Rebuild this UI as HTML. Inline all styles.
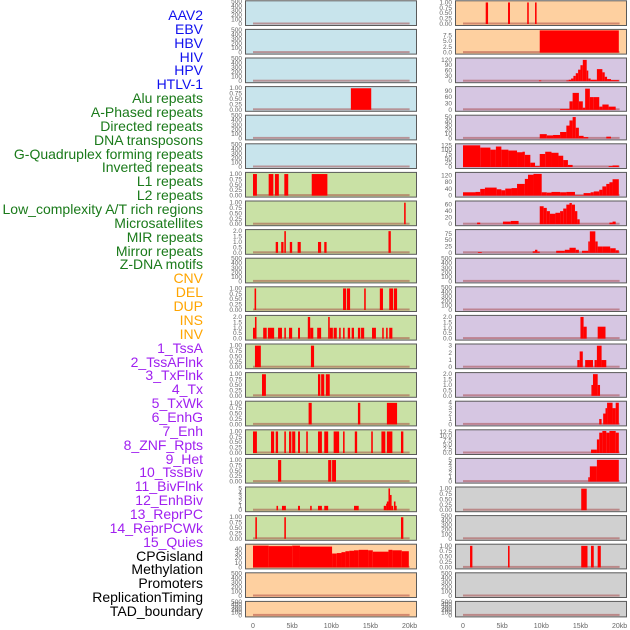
<!DOCTYPE html>
<html><head><meta charset="utf-8">
<style>
html,body{margin:0;padding:0;background:#fff;}
#wrap{position:relative;width:630px;height:630px;overflow:hidden;font-family:"Liberation Sans",sans-serif;}
.lbl{position:absolute;right:427px;font-size:14px;line-height:14px;white-space:nowrap;}
svg{position:absolute;left:0;top:0;}
</style></head>
<body>
<div id="wrap">
<svg id="chart" width="630" height="630"></svg>
</div>
<script>
// ---- track labels ----
const trackLabels = ["AAV2","EBV","HBV","HIV","HPV","HTLV-1","Alu repeats","A-Phased repeats","Directed repeats","DNA transposons","G-Quadruplex forming repeats","Inverted repeats","L1 repeats","L2 repeats","Low_complexity A/T rich regions","Microsatellites","MIR repeats","Mirror repeats","Z-DNA motifs","CNV","DEL","DUP","INS","INV","1_TssA","2_TssAFlnk","3_TxFlnk","4_Tx","5_TxWk","6_EnhG","7_Enh","8_ZNF_Rpts","9_Het","10_TssBiv","11_BivFlnk","12_EnhBiv","13_ReprPC","14_ReprPCWk","15_Quies","CPGisland","Methylation","Promoters","ReplicationTiming","TAD_boundary"];
const labelGroups = [6,13,5,15,5];
const groupColors = ["#1010ee","#1a7a1a","#ffa500","#a020f0","#000000"];

// ---- x axis ----
const xTicks = [0,5,10,15,20];
const xTickLabels = ["0","5kb","10kb","15kb","20kb"];

// ---- left column data: [startKb, endKb, value] ----
const L00=[],L01=[],L02=[],L04=[],L05=[],L09=[],L20=[],L21=[];
const L03=[[12.5,15.1,1]];
const L06=[[0,0.5,1],[2.0,2.6,1],[2.8,3.3,1],[4.0,4.5,1],[7.5,9.5,1]];
const L07=[[19.3,19.5,1]];
const L08=[[2.9,3.2,1],[3.6,3.9,1],[4.0,4.2,2],[4.7,5.0,1],[5.7,6.1,1],[8.3,8.7,1],[9.1,9.4,1],[17.3,17.6,2]];
const L10=[[0.2,0.4,1],[11.5,11.9,1],[12.0,12.4,1],[14.2,14.4,1],[16.2,16.6,1],[17.4,17.9,1],[18.0,18.4,1]];
const L11=[[0,0.4,1],[0.25,0.45,2],[1.3,1.75,1],[1.9,2.7,1],[3.2,3.7,1],[4.0,4.2,1],[4.6,5.0,1],[5.75,6.0,1],[7.0,7.3,2],[7.3,7.7,1],[8.2,8.7,1],[9.6,9.8,2],[9.8,10.2,1],[10.3,10.7,1],[11.0,11.2,1],[11.5,11.7,1],[12.1,12.4,1],[12.6,12.9,1],[13.4,13.7,1],[13.8,14.2,1],[15.2,15.7,1],[16.5,16.7,1],[17.0,17.2,1],[17.4,17.8,1]];
const L12=[[0.25,1.0,1],[7.4,7.8,1]];
const L13=[[1.15,1.65,1],[8.3,8.6,1],[8.7,9.1,1],[9.3,9.8,1]];
const L14=[[7.1,7.5,1],[13.4,13.7,1],[17.1,18.4,1]];
const L15=[[0,0.5,1],[2.3,2.7,1],[2.9,3.2,1],[4.0,4.2,1],[4.6,4.9,1],[5.0,5.4,1],[5.75,6.0,1],[6.8,7.0,1],[8.3,8.8,1],[9.1,9.6,1],[10.3,11.0,1],[11.5,11.7,1],[13.0,13.3,1],[15.1,15.3,1],[16.4,16.9,1],[17.1,17.8,1],[18.9,19.2,1]];
const L16=[[3.2,3.6,1],[9.6,10.0,1],[10.1,10.6,1]];
const L17=[[3.0,3.2,1],[3.7,4.2,1],[5.75,6.0,1],[7.3,7.5,1],[8.3,8.8,1],[9.1,9.6,1],[12.9,13.5,1],[16.7,17.0,1],[17.0,17.1,1.5],[17.1,17.3,2],[17.3,17.5,5],[17.5,17.7,3.5],[17.7,17.9,1],[18.0,18.2,2],[18.2,18.3,1]];
const L18=[[0.3,0.5,1],[4.0,4.2,1],[18.9,19.2,1]];
const L19=[[0,2,47],[2,5,46],[5,6,47],[6,10.1,45],[10.1,10.7,30],[10.7,11.3,31],[11.3,11.8,33],[11.8,12.3,35],[12.3,12.9,36],[12.9,13.5,37],[13.5,14.7,38],[14.7,15.3,37],[15.3,17.3,34],[17.3,17.8,38],[17.8,19.0,37],[19.0,19.9,35]];

// ---- right column data ----
const R09=[],R10=[],R18=[],R20=[],R21=[];
const R00=[[2.9,3.2,1],[5.75,6.0,1],[8.2,8.4,1],[9.2,9.4,1]];
const R01=[[9.8,19.9,9.6]];
const R02=[[9.7,10.0,4],[13.2,13.5,4],[13.5,13.8,8],[13.8,14.1,15],[14.1,14.4,30],[14.4,14.7,45],[14.7,15.0,65],[15.0,15.3,90],[15.3,15.8,120],[15.8,16.0,60],[16.0,16.3,15],[16.3,17.1,8],[17.1,17.8,68],[17.8,18.1,50],[18.1,18.4,25],[18.4,18.9,12],[18.9,19.9,6]];
const R03=[[12.4,13.6,4],[13.6,14.0,40],[14.0,14.8,80],[14.8,15.3,40],[15.3,15.6,10],[15.6,16.2,100],[16.2,16.7,60],[16.7,17.4,60],[17.4,17.8,15],[17.8,18.6,25],[18.6,19.5,15]];
const R04=[[9.8,10.7,10],[10.7,11.5,7],[11.5,12.4,8],[12.4,13.2,15],[13.2,13.6,30],[13.6,14.0,42],[14.0,14.4,50],[14.4,14.8,25],[14.8,15.4,6],[15.4,16.0,3],[18.3,18.9,4]];
const R05=[[0,2.2,125],[2.2,3.5,112],[3.5,4.2,100],[4.2,4.9,118],[4.9,5.8,100],[5.8,6.9,95],[6.9,7.6,85],[7.6,7.9,88],[7.9,8.6,70],[8.6,9.2,25],[9.2,9.8,5],[9.8,10.5,75],[10.5,11.3,88],[11.3,12.2,82],[12.2,12.8,65],[12.8,13.4,40],[13.4,14.0,12],[18.6,19.1,5],[19.1,19.9,9]];
const R06=[[0,1.6,20],[1.6,2.2,22],[2.2,2.8,40],[2.8,4.3,48],[4.3,4.9,38],[4.9,5.4,32],[5.4,6.2,42],[6.2,6.9,45],[6.9,7.9,70],[7.9,8.3,100],[8.3,9.0,125],[9.0,10.05,130],[10.05,10.7,20],[10.7,11.3,18],[11.3,12.4,22],[12.4,13.2,20],[13.2,14.3,22],[14.3,15.4,3],[15.4,16.3,15],[16.3,16.7,20],[16.7,17.4,25],[17.4,17.8,35],[17.8,18.3,55],[18.3,18.7,70],[18.7,19.1,80],[19.1,19.9,98]];
const R07=[[1.8,2.2,5],[5.1,6.1,8],[6.1,7.1,10],[9.8,10.3,55],[10.3,10.7,50],[10.7,11.1,40],[11.1,11.8,32],[11.8,12.4,35],[12.4,12.8,40],[12.8,13.2,48],[13.2,13.6,60],[13.6,13.9,65],[13.9,14.3,60],[14.3,14.6,40],[14.6,14.9,15],[18.7,19.1,5],[19.1,19.5,8]];
const R08=[[1.9,2.4,3],[8.9,9.2,6],[9.2,9.5,12],[9.5,9.8,5],[11.9,13.0,8],[13.0,13.6,12],[13.6,14.4,20],[14.4,14.8,12],[15.2,16.0,8],[16.0,16.2,45],[16.2,16.9,85],[16.9,17.2,45],[17.2,17.8,25],[17.8,18.8,25],[18.8,19.5,18],[19.5,19.9,10]];
const R11=[[15.0,15.4,2],[15.4,15.8,1.1],[17.2,18.2,1.1]];
const R12=[[14.6,14.9,1],[14.9,15.3,2.2],[15.6,16.6,1],[16.8,17.1,1],[17.1,17.7,3],[17.7,18.3,1]];
const R13=[[16.4,16.6,1],[16.6,17.2,2],[17.2,17.5,1]];
const R14=[[17.4,17.7,1],[17.9,18.2,2],[18.2,18.4,3],[18.4,19.1,4],[19.1,19.5,3],[19.5,19.9,4]];
const R15=[[16.35,17.1,2],[17.1,17.4,8],[17.4,17.8,12],[17.8,18.3,13],[18.3,18.7,12],[18.7,19.5,13],[19.5,19.9,12]];
const R16=[[16.0,16.2,1],[16.2,17.1,3.5],[17.1,19.9,5]];
const R17=[[15.1,15.8,1]];
const R19=[[0.9,1.2,1],[5.75,5.95,1],[15.1,15.9,1],[16.35,16.7,1],[17.2,17.6,1]];

const leftSeries=[L00,L01,L02,L03,L04,L05,L06,L07,L08,L09,L10,L11,L12,L13,L14,L15,L16,L17,L18,L19,L20,L21];
const rightSeries=[R00,R01,R02,R03,R04,R05,R06,R07,R08,R09,R10,R11,R12,R13,R14,R15,R16,R17,R18,R19,R20,R21];

// ---- y tick labels per panel ----
const tEmpty=["0","100","200","300","400","500"];
const tUnit=["0.00","0.25","0.50","0.75","1.00"];
const tTwo=["0.0","0.5","1.0","1.5","2.0"];
const leftTicks=[tEmpty,tEmpty,tEmpty,tUnit,tEmpty,tEmpty,tUnit,tUnit,tTwo,tEmpty,tUnit,tTwo,tUnit,tUnit,tUnit,tUnit,tUnit,["0","1","2","3","4","5"],tUnit,["0","10","20","30","40"],tEmpty,tEmpty];
const leftMax=[520,520,520,1.03,520,520,1.03,1.03,2.05,520,1.03,2.05,1.03,1.03,1.03,1.03,1.03,5.1,1.03,48,520,520];
const rightTicks=[tUnit,["0.0","2.5","5.0","7.5"],["0","30","60","90","120"],["0","30","60","90"],["0","10","20","30","40","50"],["0","25","50","75","100","125"],["0","40","80","120"],["0","20","40","60"],["0","25","50","75"],tEmpty,tEmpty,tTwo,["0","1","2","3"],tTwo,["0","1","2","3","4"],["0.0","2.5","5.0","7.5","10.0","12.5"],["0","1","2","3","4","5"],tUnit,tEmpty,tUnit,tEmpty,tEmpty];
const rightMax=[1.03,9.6,125,105,52,128,133,68,88,520,520,2.05,3.1,2.05,4.1,13.1,5.1,1.03,520,1.03,520,520];

const leftBg=["#c8e4ec","#c8e4ec","#c8e4ec","#c8e4ec","#c8e4ec","#c8e4ec","#c9e1a5","#c9e1a5","#c9e1a5","#c9e1a5","#c9e1a5","#c9e1a5","#c9e1a5","#c9e1a5","#c9e1a5","#c9e1a5","#c9e1a5","#c9e1a5","#c9e1a5","#fed0a0","#fed0a0","#fed0a0"];
const rightBg=["#fed0a0","#fed0a0","#d6c6e2","#d6c6e2","#d6c6e2","#d6c6e2","#d6c6e2","#d6c6e2","#d6c6e2","#d6c6e2","#d6c6e2","#d6c6e2","#d6c6e2","#d6c6e2","#d6c6e2","#d6c6e2","#d6c6e2","#d0d0d0","#d0d0d0","#d0d0d0","#d0d0d0","#d0d0d0"];

const NS="http://www.w3.org/2000/svg";
const svg=document.getElementById('chart');
function mk(tag,attrs,parent){const e=document.createElementNS(NS,tag);for(const k in attrs)e.setAttribute(k,attrs[k]);(parent||svg).appendChild(e);return e;}

const cols=[{px:245,pw:171,x0:253,series:leftSeries,ticks:leftTicks,max:leftMax,bg:leftBg,name:'left'},
            {px:455,pw:171,x0:463,series:rightSeries,ticks:rightTicks,max:rightMax,bg:rightBg,name:'right'}];
const kbPx=7.83;
function rowTop(i){return 0.3+i*28.6;}
function rowH(i){return i===21?15.5:24.7;}

cols.forEach(c=>{
  const xs=kb=>c.x0+kb*kbPx;
  for(let i=0;i<22;i++){
    const T=rowTop(i),H=rowH(i);
    const g=mk('g',{});
    
    
    const r=mk('rect',{x:c.px+0.5,y:T+0.5,width:c.pw,height:H,fill:c.bg[i],stroke:'#5a5a5a','stroke-width':1},g);
    
    
    const bot=T+H-1,top=T+1.5,M=c.max[i];
    const ys=v=>bot-(v/M)*(bot-top);
    const bl=mk('rect',{x:xs(0),y:bot-1.5,width:xs(20)-xs(0),height:2,fill:'#a03030','fill-opacity':0.45},g);
    
    
    c.series[i].forEach(d=>{
      const b=mk('rect',{x:xs(d[0]),y:ys(d[2]),width:Math.max(xs(d[1])-xs(d[0]),1.2),height:bot-ys(d[2]),fill:'#ff0000'},g);
      
      
    });
    const tl=c.ticks[i];
    const empty=(tl===tEmpty);
    tl.forEach((t,k)=>{
      const v=parseFloat(t);
      const y=empty?(bot-(k/(tl.length-1))*(H-2)):ys(v);
      const tx=mk('text',{x:c.px-3,y:y+2,'font-size':6.5,fill:'#666','text-anchor':'end','font-family':'Liberation Sans, sans-serif'},g);
      tx.textContent=t;
      
      
    });
  }
  xTicks.forEach((t,k)=>{
    const tx=mk('text',{x:xs(t),y:628,'font-size':7,fill:'#666','text-anchor':'middle','font-family':'Liberation Sans, sans-serif'});
    tx.textContent=xTickLabels[k];
    
    
  });
});

// labels
const wrap=document.getElementById('wrap');
let gi=0,cnt=0;
trackLabels.forEach((t,i)=>{
  while(cnt>=labelGroups[gi]){cnt=0;gi++;}
  cnt++;
  const d=document.createElement('div');
  d.className='lbl';
  d.style.top=(8+i*13.86)+'px';
  d.style.color=groupColors[gi];
  d.textContent=t;
  
  
  wrap.appendChild(d);
});
</script>
</body></html>
